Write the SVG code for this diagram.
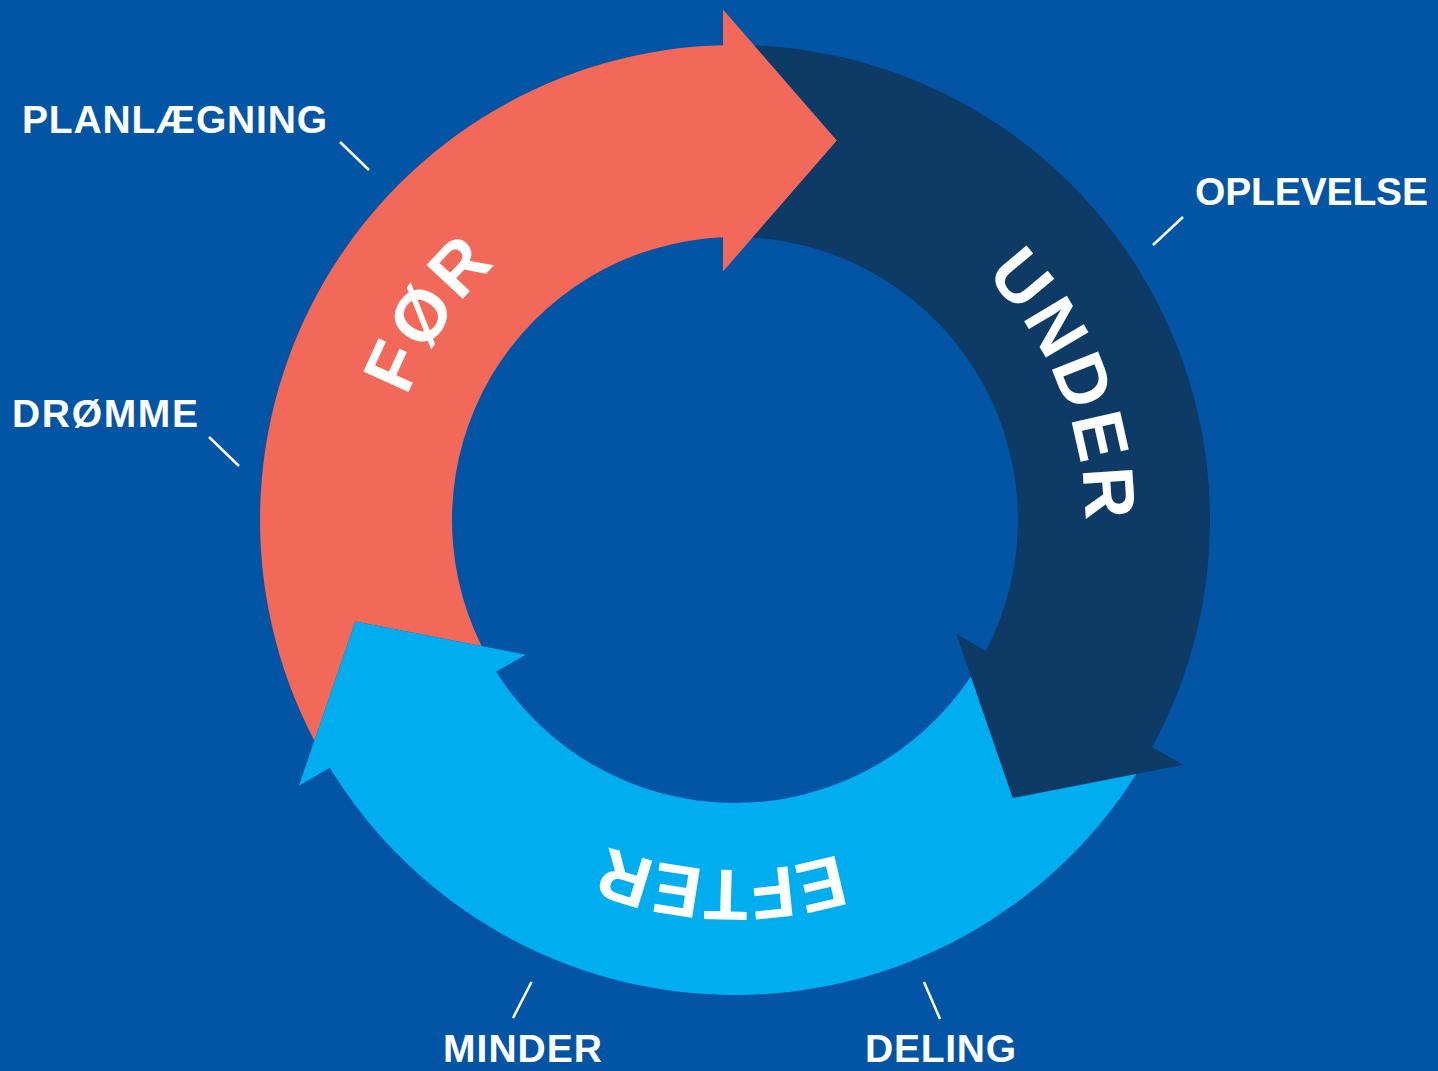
<svg xmlns="http://www.w3.org/2000/svg" xmlns:xlink="http://www.w3.org/1999/xlink" width="1438" height="1071" viewBox="0 0 1438 1071">
  <style>
    .lbl { font-family: "Liberation Sans", Arial, sans-serif; font-weight: bold; font-size: 39px; fill: #ffffff; }
    .arc { font-family: "Liberation Sans", Arial, sans-serif; font-weight: bold; font-size: 72px; fill: #ffffff; letter-spacing: 4px; }
    .tick { stroke: #ffffff; stroke-width: 2.5; stroke-linecap: butt; fill: none; }
  </style>
  <defs>
    <path id="arrowShape" d="M 314.36 740.64 A 475 475 0 0 1 723 45.15 L 723 9.5 L 837 140.5 L 723 271.5 L 723 237.25 A 283 283 0 0 0 481.59 645.99 L 355.35 621.4 Z"/>
    <path id="ring" d="M 735 170 A 350 350 0 1 1 735 870 A 350 350 0 1 1 735 170"/>
  </defs>
  <rect x="0" y="0" width="1438" height="1071" fill="#0254A5"/>

  <g id="node-for">
    <use xlink:href="#arrowShape" href="#arrowShape" fill="#F26859"/>
    <text class="arc" text-anchor="middle"><textPath xlink:href="#ring" href="#ring" startOffset="1857">FØR</textPath></text>
  </g>
  <g id="node-under">
    <use xlink:href="#arrowShape" href="#arrowShape" fill="#0D3B66" transform="rotate(120 735 520)"/>
    <text class="arc" text-anchor="middle"><textPath xlink:href="#ring" href="#ring" startOffset="416">UNDER</textPath></text>
  </g>
  <g id="node-efter">
    <use xlink:href="#arrowShape" href="#arrowShape" fill="#00ADEE" transform="rotate(240 735 520)"/>
    <text class="arc" text-anchor="middle" style="letter-spacing:0px"><textPath xlink:href="#ring" href="#ring" startOffset="1112">EFTER</textPath></text>
  </g>

  <g id="connectors">
    <line class="tick" x1="340" y1="142" x2="369" y2="170"/>
    <line class="tick" x1="209" y1="437" x2="239" y2="466"/>
    <line class="tick" x1="1183" y1="217" x2="1153" y2="245"/>
    <line class="tick" x1="531.5" y1="982" x2="513" y2="1018"/>
    <line class="tick" x1="924" y1="982" x2="940" y2="1019"/>
  </g>

  <g id="label-planlaegning"><text class="lbl" x="22" y="133" textLength="305" lengthAdjust="spacing">PLANLÆGNING</text></g>
  <g id="label-dromme"><text class="lbl" x="12" y="427" textLength="186" lengthAdjust="spacing">DRØMME</text></g>
  <g id="label-oplevelse"><text class="lbl" x="1195" y="205" textLength="233" lengthAdjust="spacing">OPLEVELSE</text></g>
  <g id="label-minder"><text class="lbl" x="443" y="1062" textLength="159" lengthAdjust="spacing">MINDER</text></g>
  <g id="label-deling"><text class="lbl" x="865" y="1062" textLength="151" lengthAdjust="spacing">DELING</text></g>
</svg>
